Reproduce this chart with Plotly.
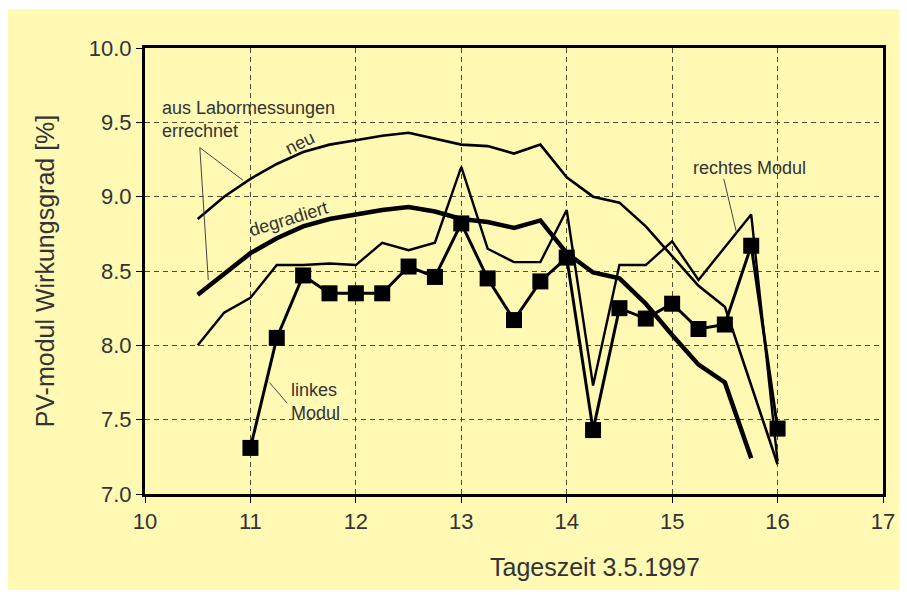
import plotly.graph_objects as go

# ---- data ----
neu_x = [10.5, 10.75, 11, 11.25, 11.5, 11.75, 12, 12.25, 12.5, 12.75, 13, 13.25, 13.5, 13.75,
         14, 14.25, 14.5, 14.75, 15, 15.25, 15.5, 15.75, 16]
neu_y = [8.85, 9.0, 9.12, 9.22, 9.3, 9.35, 9.38, 9.41, 9.43, 9.39, 9.35, 9.34, 9.29, 9.35,
         9.13, 9.0, 8.96, 8.8, 8.6, 8.4, 8.26, 7.73, 7.2]

deg_x = [10.5, 10.75, 11, 11.25, 11.5, 11.75, 12, 12.25, 12.5, 12.75, 13, 13.25, 13.5, 13.75,
         14, 14.25, 14.5, 14.75, 15, 15.25, 15.5, 15.75]
deg_y = [8.34, 8.48, 8.62, 8.72, 8.8, 8.85, 8.88, 8.91, 8.93, 8.9, 8.85, 8.83, 8.79, 8.84,
         8.62, 8.49, 8.45, 8.28, 8.07, 7.87, 7.75, 7.24]

rechts_x = [10.5, 10.75, 11, 11.25, 11.5, 11.75, 12, 12.25, 12.5, 12.75, 13, 13.25, 13.5, 13.75,
            14, 14.25, 14.5, 14.75, 15, 15.25, 15.5, 15.75, 16]
rechts_y = [8.0, 8.22, 8.32, 8.54, 8.54, 8.55, 8.54, 8.69, 8.64, 8.69, 9.2, 8.65, 8.56, 8.56,
            8.91, 7.73, 8.54, 8.54, 8.7, 8.44, 8.66, 8.88, 7.22]

links_x = [11, 11.25, 11.5, 11.75, 12, 12.25, 12.5, 12.75, 13, 13.25, 13.5, 13.75,
           14, 14.25, 14.5, 14.75, 15, 15.25, 15.5, 15.75, 16]
links_y = [7.31, 8.05, 8.47, 8.35, 8.35, 8.35, 8.53, 8.46, 8.82, 8.45, 8.17, 8.43,
           8.59, 7.43, 8.25, 8.18, 8.28, 8.11, 8.14, 8.67, 7.44]

x_ticks = [10, 11, 12, 13, 14, 15, 16, 17]
y_ticks = [7.0, 7.5, 8.0, 8.5, 9.0, 9.5, 10.0]

BG = "#fff9b4"
TXT = "#333333"
FONT = "Liberation Sans, Arial, sans-serif"

fig = go.Figure()
fig.add_trace(go.Scatter(x=neu_x, y=neu_y, mode="lines",
                         line=dict(color="black", width=2.6), hoverinfo="skip"))
fig.add_trace(go.Scatter(x=deg_x, y=deg_y, mode="lines",
                         line=dict(color="black", width=4.5), hoverinfo="skip"))
fig.add_trace(go.Scatter(x=rechts_x, y=rechts_y, mode="lines",
                         line=dict(color="black", width=2.4), hoverinfo="skip"))
fig.add_trace(go.Scatter(x=links_x, y=links_y, mode="lines+markers",
                         line=dict(color="black", width=3),
                         marker=dict(symbol="square", size=16, color="black"),
                         hoverinfo="skip"))

# leader lines for annotations
leaders = [
    (10.52, 9.33, 10.93, 9.11),
    (10.52, 9.33, 10.60, 8.44),
    (15.49, 9.12, 15.61, 8.76),
    (11.18, 7.75, 11.35, 7.61),
]
for x0, y0, x1, y1 in leaders:
    fig.add_shape(type="line", xref="x", yref="y", x0=x0, y0=y0, x1=x1, y1=y1,
                  line=dict(color="#444444", width=1))

# yellow card with white border
fig.add_shape(type="rect", xref="paper", yref="paper", layer="below",
              x0=-0.189, x1=1.0217, y0=-0.215, y1=1.087,
              fillcolor=BG, line=dict(width=0))

ann = dict(showarrow=False, font=dict(family=FONT, size=18, color=TXT))
fig.add_annotation(x=10.14, y=9.52, xref="x", yref="y", xanchor="left", align="left",
                   text="aus Labormessungen<br>errechnet", **ann)
fig.add_annotation(x=11.47, y=9.36, xref="x", yref="y", text="neu", textangle=-26, **ann)
fig.add_annotation(x=11.36, y=8.85, xref="x", yref="y", text="degradiert", textangle=-17, **ann)
fig.add_annotation(x=15.73, y=9.19, xref="x", yref="y", text="rechtes Modul", **ann)
fig.add_annotation(x=11.37, y=7.62, xref="x", yref="y", xanchor="left", align="left",
                   text="linkes<br>Modul", **ann)

# axis titles
fig.add_annotation(x=0.61, y=-0.164, xref="paper", yref="paper", showarrow=False,
                   xanchor="center", yanchor="middle",
                   text="Tageszeit 3.5.1997", font=dict(family=FONT, size=25, color=TXT))
fig.add_annotation(x=-0.135, y=0.5, xref="paper", yref="paper", showarrow=False,
                   xanchor="center", yanchor="middle",
                   text="PV-modul Wirkungsgrad [%]", textangle=-90,
                   font=dict(family=FONT, size=25, color=TXT))

grid = dict(showgrid=True, gridcolor="#4f4d35", gridwidth=1.3, griddash="5px,4px",
            showline=True, linecolor="black", linewidth=3, mirror=True,
            ticks="outside", ticklen=6, tickcolor="black", tickwidth=1,
            zeroline=False, tickfont=dict(family=FONT, size=22, color=TXT))

fig.update_xaxes(range=[10, 17], tickvals=x_ticks, ticktext=[str(v) for v in x_ticks], **grid)
fig.update_yaxes(range=[7, 10], tickvals=y_ticks, ticktext=[f"{v:.1f}" for v in y_ticks], **grid)

fig.update_layout(width=899, height=595, showlegend=False,
                  paper_bgcolor="white", plot_bgcolor=BG,
                  margin=dict(l=137, r=15, t=40, b=109))

fig.write_html("out.html")
